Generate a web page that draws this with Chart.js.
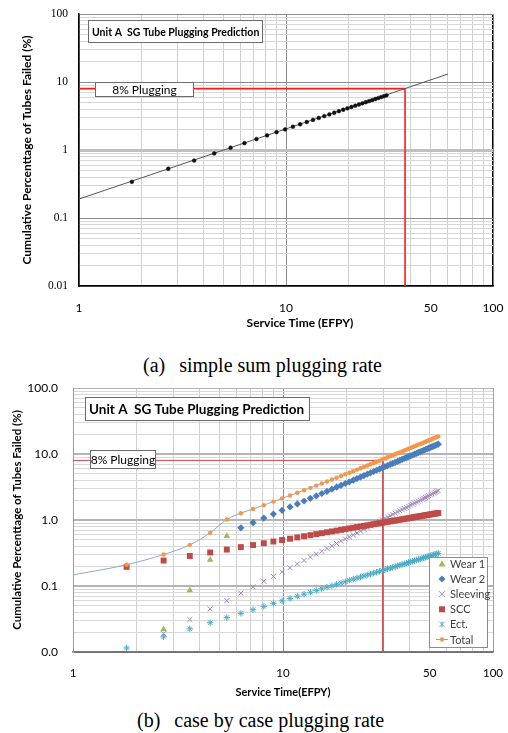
<!DOCTYPE html>
<html>
<head>
<meta charset="utf-8">
<script src="https://cdn.jsdelivr.net/npm/chart.js@4.4.1/dist/chart.umd.min.js"></script>
<style>
  body { margin:0; background:#fff; width:508px; height:733px; position:relative; overflow:hidden; }
  .wrap { position:absolute; left:0; width:508px; }
  #wrapA { top:0; height:340px; }
  #wrapB { top:375px; height:325px; }
  .cap { position:absolute; font-family:"Liberation Serif","Times New Roman",serif; font-size:20px; line-height:24px; white-space:nowrap; color:#000; }
  .cap span { margin-right:14px; }
</style>
</head>
<body>
<div class="wrap" id="wrapA"><canvas id="chartA" width="508" height="340"></canvas></div>
<div class="cap" style="left:143px;top:353px"><span>(a)</span>simple sum plugging rate</div>
<div class="wrap" id="wrapB"><canvas id="chartB" width="508" height="325"></canvas></div>
<div class="cap" style="left:137px;top:708px"><span>(b)</span>case by case plugging rate</div>

<script>
// ---- (a) simple sum plugging rate ----
const timeA = [1.8, 2.7, 3.6, 4.5, 5.4, 6.3, 7.2, 8.1, 9.0, 9.9, 10.8, 11.7, 12.6, 13.5, 14.4, 15.3, 16.2,
  17.1, 18.0, 18.9, 19.8, 20.7, 21.6, 22.5, 23.4, 24.3, 25.2, 26.1, 27.0, 27.9, 28.8, 29.7, 30.6];
const failedA = [0.34, 0.53, 0.70, 0.89, 1.08, 1.26, 1.45, 1.64, 1.83, 2.01, 2.20, 2.39, 2.58, 2.77, 2.96, 3.15, 3.34,
  3.53, 3.72, 3.91, 4.10, 4.29, 4.48, 4.67, 4.86, 5.05, 5.24, 5.43, 5.62, 5.81, 6.00, 6.18, 6.36];
const fitTimeA = [1, 60.6];
const fitA = [0.19, 13.1];
const plugTimeA = [1, 37.6, 37.6];
const plugA = [8, 8, 0.01];

// ---- (b) case by case plugging rate ----
const timeB = [0.9, 1.8, 2.7, 3.6, 4.5, 5.4, 6.3, 7.2, 8.1, 9.0, 9.9, 10.8, 11.7, 12.6, 13.5, 14.4, 15.3, 16.2,
  17.1, 18.0, 18.9, 19.8, 20.7, 21.6, 22.5, 23.4, 24.3, 25.2, 26.1, 27.0, 27.9, 28.8, 29.7, 30.6, 31.5, 32.4,
  33.3, 34.2, 35.1, 36.0, 36.9, 37.8, 38.7, 39.6, 40.5, 41.4, 42.3, 43.2, 44.1, 45.0, 45.9, 46.8, 47.7, 48.6,
  49.5, 50.4, 51.3, 52.2, 53.1, 54.0, 54.9];
const wear1 = [null, null, 0.022, 0.086, 0.25, 0.57];
const wear2 = [null, null, null, null, null, null, 0.76, 0.91, 1.07, 1.23, 1.40, 1.58, 1.75, 1.94, 2.13, 2.32,
  2.52, 2.72, 2.93, 3.14, 3.35, 3.57, 3.79, 4.01, 4.24, 4.47, 4.71, 4.94, 5.18, 5.43, 5.67, 5.92, 6.17, 6.42,
  6.68, 6.94, 7.20, 7.46, 7.73, 8.00, 8.27, 8.54, 8.82, 9.10, 9.38, 9.66, 9.94, 10.2, 10.5, 10.8, 11.1, 11.4,
  11.7, 12.0, 12.3, 12.6, 12.9, 13.2, 13.5, 13.8, 14.1];
const sleeving = [null, null, 0.019, 0.031, 0.045, 0.060, 0.078, 0.097, 0.118, 0.140, 0.164, 0.189, 0.216,
  0.244, 0.274, 0.304, 0.336, 0.370, 0.404, 0.440, 0.477, 0.515, 0.554, 0.594, 0.636, 0.678, 0.722, 0.766,
  0.812, 0.859, 0.906, 0.955, 1.005, 1.056, 1.107, 1.160, 1.214, 1.268, 1.324, 1.380, 1.438, 1.496, 1.555,
  1.615, 1.676, 1.738, 1.801, 1.865, 1.929, 1.995, 2.061, 2.128, 2.196, 2.265, 2.334, 2.405, 2.476, 2.548,
  2.621, 2.695, 2.769];
const scc = [null, 0.195, 0.243, 0.285, 0.322, 0.356, 0.388, 0.417, 0.445, 0.472, 0.497, 0.521, 0.545, 0.568,
  0.589, 0.611, 0.631, 0.652, 0.671, 0.690, 0.709, 0.728, 0.746, 0.763, 0.781, 0.798, 0.814, 0.831, 0.847,
  0.863, 0.879, 0.894, 0.909, 0.925, 0.939, 0.954, 0.969, 0.983, 0.997, 1.011, 1.025, 1.038, 1.052, 1.065,
  1.079, 1.092, 1.105, 1.118, 1.130, 1.143, 1.155, 1.168, 1.180, 1.192, 1.204, 1.216, 1.228, 1.240, 1.252,
  1.263, 1.275];
const ect = [null, 0.0115, 0.0170, 0.0224, 0.0278, 0.0332, 0.0385, 0.0438, 0.0491, 0.0544, 0.0596, 0.0648,
  0.0700, 0.0752, 0.0804, 0.0856, 0.0908, 0.0959, 0.101, 0.106, 0.111, 0.116, 0.122, 0.127, 0.132, 0.137,
  0.142, 0.147, 0.152, 0.157, 0.162, 0.167, 0.172, 0.177, 0.182, 0.187, 0.192, 0.197, 0.202, 0.207, 0.212,
  0.217, 0.222, 0.227, 0.232, 0.237, 0.242, 0.247, 0.252, 0.257, 0.262, 0.267, 0.272, 0.277, 0.282, 0.287,
  0.292, 0.297, 0.302, 0.307, 0.312];
const total = [0.139, 0.21, 0.30, 0.42, 0.64, 1.02, 1.27, 1.47, 1.68, 1.90, 2.13, 2.35, 2.59, 2.83, 3.07, 3.32,
  3.58, 3.84, 4.10, 4.37, 4.65, 4.93, 5.21, 5.50, 5.79, 6.09, 6.38, 6.69, 6.99, 7.30, 7.62, 7.93, 8.26, 8.58,
  8.91, 9.24, 9.58, 9.91, 10.25, 10.60, 10.95, 11.30, 11.65, 12.00, 12.37, 12.73, 13.09, 13.46, 13.83, 14.21,
  14.58, 14.96, 15.35, 15.73, 16.12, 16.51, 16.90, 17.30, 17.69, 18.10, 18.50];
const plugTimeB = [1, 29.9, 29.9];
const plugB = [8, 8, 0.01];

// tick labels
const xTickValues = [1, 10, 50, 100];
const xTickText = ['1', '10', '50', '100'];
const yTickValues = [0.01, 0.1, 1, 10, 100];
const yTickTextA = ['0.01', '0.1', '1', '10', '100'];
const yTickTextB = ['0.0', '0.1', '1.0', '10.0', '100.0'];

const legendB = ['Wear 1', 'Wear 2', 'Sleeving', 'SCC', 'Ect.', 'Total'];
const colorsB = { 'Wear 1': '#9bbb59', 'Wear 2': '#4a7ebb', 'Sleeving': '#9d86bd', 'SCC': '#be4b48', 'Ect.': '#4bacc6', 'Total': '#f79646' };

Chart.defaults.font.family = 'Lato';
Chart.defaults.color = '#000';

const pts = (xs, ys) => xs.map((x, i) => ({ x: x, y: ys[i] })).filter(p => p.y != null);

const near = (a, b) => Math.abs(a - b) < b * 1e-6;
const isDecade = (v) => { const l = Math.log10(v); return Math.abs(l - Math.round(l)) < 1e-6; };
const labelFor = (vals, texts) => (v) => { const i = vals.findIndex(t => near(v, t)); return i < 0 ? '' : texts[i]; };

// grid lines at 1..9 x 10^e (newer chart.js puts 1.5 ticks in, we don't want them)
function logTicks(lo, hi) {
  const out = [];
  for (let e = lo; e < hi; e++) {
    for (let s = 1; s <= 9; s++) out.push({ value: +(s * Math.pow(10, e)).toPrecision(6) });
  }
  out.push({ value: Math.pow(10, hi) });
  return out;
}

// tick padding gets added to the plot margins, so drop it after the fit
const fixW = (w) => (s) => { s.width = w; s.paddingTop = 0; s.paddingBottom = 0; };
const fixH = (h) => (s) => { s.height = h; s.paddingLeft = 0; s.paddingRight = 0; };

function box(ctx, x, y, w, h, text, font, align) {
  ctx.save();
  ctx.fillStyle = '#fff';
  ctx.fillRect(x, y, w, h);
  ctx.strokeStyle = '#6b6b6b';
  ctx.lineWidth = 1;
  ctx.strokeRect(x + 0.5, y + 0.5, w - 1, h - 1);
  ctx.fillStyle = '#000';
  ctx.font = font;
  ctx.textBaseline = 'middle';
  ctx.textAlign = align;
  ctx.fillText(text, align === 'center' ? x + w / 2 : x + 4, y + h / 2 + 1);
  ctx.restore();
}

const notesA = {
  id: 'notesA',
  afterDatasetsDraw(chart) {
    const ctx = chart.ctx;
    box(ctx, 88, 20, 175, 23, 'Unit A  SG Tube Plugging Prediction', 'bold 10.5px Lato', 'left');
    box(ctx, 95, 82, 99, 15, '8% Plugging', '12px Lato', 'center');
    ctx.save();
    ctx.font = 'bold 12px Lato';
    ctx.fillStyle = '#000';
    ctx.textAlign = 'center';
    ctx.textBaseline = 'middle';
    ctx.fillText('Service Time (EFPY)', 300, 323);
    ctx.restore();
  }
};

const notesB = {
  id: 'notesB',
  afterDatasetsDraw(chart) {
    const ctx = chart.ctx;
    box(ctx, 85, 22, 225, 24, 'Unit A  SG Tube Plugging Prediction', 'bold 13.5px Lato', 'left');
    box(ctx, 90, 75, 66, 19, '8% Plugging', '12px Lato', 'center');

    // legend box inside plot
    const lx = 429, ly = 182, lw = 59, lh = 91;
    ctx.save();
    ctx.fillStyle = '#fff';
    ctx.fillRect(lx, ly, lw, lh);
    ctx.strokeStyle = '#8c8c8c';
    ctx.strokeRect(lx + 0.5, ly + 0.5, lw - 1, lh - 1);
    ctx.font = '11px Lato';
    ctx.textBaseline = 'middle';
    legendB.forEach((name, i) => {
      const cy = ly + 7 + i * 15.1;
      const cx = 442;
      const c = colorsB[name];
      ctx.fillStyle = c;
      ctx.strokeStyle = c;
      ctx.lineWidth = 1;
      ctx.beginPath();
      if (name === 'Wear 1') {
        ctx.moveTo(cx, cy - 3.5); ctx.lineTo(cx + 3.5, cy + 2.5); ctx.lineTo(cx - 3.5, cy + 2.5); ctx.closePath(); ctx.fill();
      } else if (name === 'Wear 2') {
        ctx.moveTo(cx, cy - 3.5); ctx.lineTo(cx + 3.5, cy); ctx.lineTo(cx, cy + 3.5); ctx.lineTo(cx - 3.5, cy); ctx.closePath(); ctx.fill();
      } else if (name === 'Sleeving') {
        ctx.moveTo(cx - 3, cy - 3); ctx.lineTo(cx + 3, cy + 3); ctx.moveTo(cx + 3, cy - 3); ctx.lineTo(cx - 3, cy + 3); ctx.stroke();
      } else if (name === 'SCC') {
        ctx.fillRect(cx - 3, cy - 3, 6, 6);
      } else if (name === 'Ect.') {
        ctx.moveTo(cx - 2.5, cy - 2.5); ctx.lineTo(cx + 2.5, cy + 2.5); ctx.moveTo(cx + 2.5, cy - 2.5); ctx.lineTo(cx - 2.5, cy + 2.5);
        ctx.moveTo(cx, cy - 3); ctx.lineTo(cx, cy + 3); ctx.stroke();
      } else {
        ctx.strokeStyle = '#8ea6cf';
        ctx.moveTo(cx - 6, cy); ctx.lineTo(cx + 6, cy); ctx.stroke();
        ctx.beginPath(); ctx.arc(cx, cy, 2.2, 0, Math.PI * 2); ctx.fill();
      }
      ctx.fillStyle = '#404040';
      ctx.fillText(name, 450, cy + 0.5);
    });
    ctx.restore();
  }
};

// ---------- chart (a) ----------
const configA = {
  type: 'scatter',
  data: {
    datasets: [
      { data: pts(timeA, failedA), pointRadius: 1.9, pointBackgroundColor: '#111', pointBorderColor: '#111', pointBorderWidth: 0.5 },
      { data: pts(fitTimeA, fitA), showLine: true, borderColor: '#555', borderWidth: 1, pointRadius: 0 },
      { data: pts(plugTimeA, plugA), showLine: true, borderColor: '#ff1a1a', borderWidth: 1.6, pointRadius: 0 }
    ]
  },
  options: {
    responsive: false,
    animation: false,
    layout: { padding: { top: 14, right: 15, left: 0, bottom: 0 } },
    plugins: { legend: { display: false }, tooltip: { enabled: false } },
    scales: {
      x: {
        type: 'logarithmic', min: 1, max: 100,
        afterBuildTicks: (s) => { s.ticks = logTicks(0, 2); },
        afterFit: fixH(54),
        border: { color: '#000', width: 1.5 },
        grid: {
          drawTicks: false,
          color: (c) => { const v = c.tick.value; return near(v, 100) ? '#000' : isDecade(v) ? '#8c8c8c' : '#cfcfcf'; },
          lineWidth: (c) => near(c.tick.value, 100) ? 1.5 : 1
        },
        ticks: { autoSkip: false, maxRotation: 0, padding: 15, font: { size: 12 }, callback: labelFor(xTickValues, xTickText) }
      },
      y: {
        type: 'logarithmic', min: 0.01, max: 100,
        afterBuildTicks: (s) => { s.ticks = logTicks(-2, 2); },
        afterFit: fixW(79),
        border: { color: '#000', width: 1.5 },
        grid: {
          drawTicks: false,
          color: (c) => { const v = c.tick.value; if (near(v, 1)) return '#c0c0c0'; return isDecade(v) ? '#8c8c8c' : '#d6d6d6'; },
          lineWidth: (c) => near(c.tick.value, 1) ? 3 : 1
        },
        ticks: { autoSkip: false, padding: 11, font: { family: 'Liberation Serif', size: 11.5 }, callback: labelFor(yTickValues, yTickTextA) },
        title: { display: true, text: 'Cumulative Percenttage of Tubes Failed (%)', font: { size: 12, weight: 'bold' }, padding: { top: 20, bottom: 0 } }
      }
    }
  },
  plugins: [notesA]
};

// ---------- chart (b) ----------
const configB = {
  type: 'scatter',
  data: {
    datasets: [
      { label: 'Total', data: pts(timeB, total), showLine: true, borderColor: '#8ea6cf', borderWidth: 1, cubicInterpolationMode: 'monotone',
        pointRadius: 2.2, pointBackgroundColor: colorsB['Total'], pointBorderColor: colorsB['Total'], pointBorderWidth: 0 },
      { label: 'Ect.', data: pts(timeB, ect), pointStyle: 'star', pointRadius: 3.2, pointBorderColor: colorsB['Ect.'], pointBackgroundColor: colorsB['Ect.'], pointBorderWidth: 1 },
      { label: 'SCC', data: pts(timeB, scc), pointStyle: 'rect', pointRadius: 4.2, pointBackgroundColor: colorsB['SCC'], pointBorderColor: colorsB['SCC'], pointBorderWidth: 0 },
      { label: 'Sleeving', data: pts(timeB, sleeving), pointStyle: 'crossRot', pointRadius: 3.5, pointBorderColor: colorsB['Sleeving'], pointBorderWidth: 1 },
      { label: 'Wear 2', data: pts(timeB, wear2), pointStyle: 'rectRot', pointRadius: 3.6, pointBackgroundColor: colorsB['Wear 2'], pointBorderColor: colorsB['Wear 2'], pointBorderWidth: 0 },
      { label: 'Wear 1', data: pts(timeB, wear1), pointStyle: 'triangle', pointRadius: 3.8, pointBackgroundColor: colorsB['Wear 1'], pointBorderColor: colorsB['Wear 1'], pointBorderWidth: 0 },
      { label: '8%', data: pts(plugTimeB, plugB), showLine: true, borderColor: '#d5474a', borderWidth: 1, pointRadius: 0 }
    ]
  },
  options: {
    responsive: false,
    animation: false,
    layout: { padding: { top: 13, right: 15, left: 0, bottom: 0 } },
    plugins: { legend: { display: false }, tooltip: { enabled: false } },
    scales: {
      x: {
        type: 'logarithmic', min: 1, max: 100,
        afterBuildTicks: (s) => { s.ticks = logTicks(0, 2); },
        afterFit: fixH(48),
        border: { color: '#777', width: 1.5 },
        grid: {
          drawTicks: false,
          color: (c) => { const v = c.tick.value; return near(v, 100) ? '#a0a0a0' : isDecade(v) ? '#8c8c8c' : '#d0d0d0'; }
        },
        ticks: { autoSkip: false, maxRotation: 0, padding: 14, font: { size: 11.5 }, callback: labelFor(xTickValues, xTickText) },
        title: { display: true, text: 'Service Time(EFPY)', font: { size: 11, weight: 'bold' }, padding: { top: 0, bottom: 1 } }
      },
      y: {
        type: 'logarithmic', min: 0.01, max: 100,
        afterBuildTicks: (s) => { s.ticks = logTicks(-2, 2); },
        afterFit: fixW(73),
        border: { color: '#9a9a9a', width: 1 },
        grid: {
          drawTicks: false,
          color: (c) => { const v = c.tick.value; if (near(v, 0.01)) return '#707070'; return isDecade(v) ? '#b4b4b4' : '#d8d8d8'; },
          lineWidth: (c) => { const v = c.tick.value; return (isDecade(v) && v > 0.05 && v < 50) ? 2 : 1; }
        },
        ticks: { autoSkip: false, padding: 15, font: { size: 12 }, callback: labelFor(yTickValues, yTickTextB) },
        title: { display: true, text: 'Cumulative Percenttage of Tubes Failed (%)', font: { size: 11.5, weight: 'bold' }, padding: { top: 10, bottom: 0 } }
      }
    }
  },
  plugins: [notesB]
};

new Chart(document.getElementById('chartA'), configA);
new Chart(document.getElementById('chartB'), configB);
</script>
</body>
</html>
